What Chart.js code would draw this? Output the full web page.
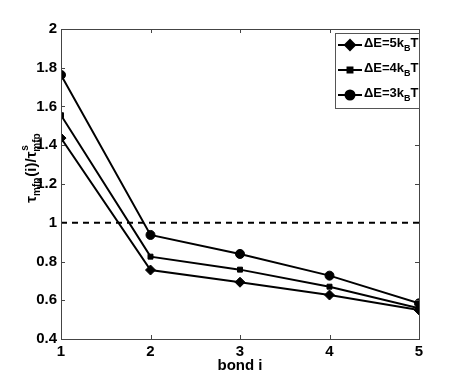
<!DOCTYPE html>
<html>
<head>
<meta charset="UTF-8">
<title>tau mfp vs bond</title>
<script src="https://cdn.jsdelivr.net/npm/chart.js"></script>
<style>
    body { margin: 0; background: #fff; }
    #wrap { width: 463px; height: 382px; }
</style>
</head>
<body>
<div id="wrap"><canvas id="c"></canvas></div>
<script>
    // data
    var bonds = [1, 2, 3, 4, 5];
    var dE5 = [1.437, 0.756, 0.693, 0.627, 0.55];
    var dE4 = [1.555, 0.825, 0.758, 0.670, 0.558];
    var dE3 = [1.763, 0.937, 0.839, 0.727, 0.584];
    var refLine = [1, 1, 1, 1, 1];
    var legendNames = ['5', '4', '3'];

    var FONT = "'Liberation Sans Narrow', 'Liberation Sans', Arial, sans-serif";

    function pts(arr) {
        return arr.map(function (v, i) { return { x: bonds[i], y: v }; });
    }

    function series(arr, style, rad) {
        return {
            data: pts(arr),
            borderColor: '#000',
            backgroundColor: '#000',
            borderWidth: 2,
            pointStyle: style,
            pointRadius: rad,
            pointBorderWidth: 1,
            tension: 0
        };
    }

    // axis box, inward ticks, titles, legend
    var decor = {
        id: 'decor',
        afterDraw: function (chart) {
            var c = chart.ctx, a = chart.chartArea;
            var xs = chart.scales.x, ys = chart.scales.y;
            c.save();
            c.strokeStyle = '#444';
            c.lineWidth = 1;
            c.strokeRect(a.left + 0.5, a.top + 0.5, a.right - a.left, a.bottom - a.top);
            c.beginPath();
            bonds.forEach(function (b) {
                var px = Math.round(xs.getPixelForValue(b)) + 0.5;
                c.moveTo(px, a.bottom); c.lineTo(px, a.bottom - 4);
                c.moveTo(px, a.top); c.lineTo(px, a.top + 4);
            });
            ys.ticks.forEach(function (t) {
                var py = Math.round(ys.getPixelForValue(t.value)) + 0.5;
                c.moveTo(a.left, py); c.lineTo(a.left + 4, py);
                c.moveTo(a.right, py); c.lineTo(a.right - 4, py);
            });
            c.stroke();

            // x title
            c.fillStyle = '#000';
            c.font = 'bold 15px ' + FONT;
            c.textAlign = 'center';
            c.textBaseline = 'middle';
            c.fillText('bond i', (a.left + a.right) / 2, 366);

            // y title: tau_mfp(i)/tau^s_mfp
            c.translate(31, 168);
            c.rotate(-Math.PI / 2);
            c.textAlign = 'left';
            c.textBaseline = 'alphabetic';
            var big = 'bold 15px ' + FONT, small = 'bold 10px ' + FONT;
            c.font = big; var wTau = c.measureText('\u03c4').width, wMid = c.measureText('(i)/\u03c4').width;
            c.font = small; var wSub = c.measureText('mfp').width;
            var w = wTau + wSub + 1 + wMid + wSub;
            var x = -w / 2, base = 5;
            c.font = big; c.fillText('\u03c4', x, base); x += wTau;
            c.font = small; c.fillText('mfp', x, base + 4); x += wSub + 1;
            c.font = big; c.fillText('(i)/\u03c4', x, base); x += wMid;
            c.font = small; c.fillText('s', x + 1, base - 8); c.fillText('mfp', x, base + 4);
            c.restore();

            // legend
            c.save();
            var lx = 335, ly = 33, lw = 84, lh = 75;
            c.fillStyle = '#fff';
            c.fillRect(lx, ly, lw, lh);
            c.strokeStyle = '#555';
            c.lineWidth = 1;
            c.strokeRect(lx + 0.5, ly + 0.5, lw, lh);
            var rows = [45, 70, 95];
            [0, 1, 2].forEach(function (i) {
                var ds = chart.data.datasets[i];
                var y = rows[i];
                c.strokeStyle = '#000';
                c.fillStyle = '#000';
                c.lineWidth = 2;
                c.beginPath(); c.moveTo(338, y); c.lineTo(362, y); c.stroke();
                Chart.helpers.drawPoint(c, {
                    pointStyle: ds.pointStyle, radius: ds.pointRadius, borderWidth: 1
                }, 350, y);
                c.fillStyle = '#000';
                c.textBaseline = 'middle';
                c.textAlign = 'left';
                c.font = 'bold 13px ' + FONT;
                var t1 = '\u0394E=' + legendNames[i] + 'k';
                c.fillText(t1, 364, y - 2);
                var tx = 364 + c.measureText(t1).width;
                c.font = 'bold 9px ' + FONT;
                c.fillText('B', tx, y + 4);
                tx += c.measureText('B').width;
                c.font = 'bold 13px ' + FONT;
                c.fillText('T', tx, y - 2);
            });
            c.restore();
        }
    };

    new Chart(document.getElementById('c'), {
        type: 'line',
        data: {
            datasets: [
                series(dE5, 'rectRot', 5),
                series(dE4, 'rect', 3.5),
                series(dE3, 'circle', 4.5),
                {
                    data: pts(refLine),
                    borderColor: '#000',
                    borderWidth: 2,
                    borderDash: [6, 5],
                    pointRadius: 0
                }
            ]
        },
        options: {
            responsive: true,
            maintainAspectRatio: false,
            animation: false,
            layout: { padding: { top: 29, right: 44, left: 0, bottom: 0 } },
            plugins: { legend: { display: false }, tooltip: { enabled: false } },
            scales: {
                x: {
                    type: 'linear', min: 1, max: 5,
                    grid: { display: false, drawTicks: false },
                    border: { display: false },
                    ticks: {
                        stepSize: 1, padding: 4, color: '#000',
                        font: { family: FONT, size: 15, weight: 'bold' }
                    },
                    afterFit: function (s) { s.height = 43; }
                },
                y: {
                    min: 0.4, max: 2,
                    grid: { display: false, drawTicks: false },
                    border: { display: false },
                    ticks: {
                        stepSize: 0.2, padding: 4, color: '#000',
                        font: { family: FONT, size: 15, weight: 'bold' },
                        callback: function (v) { return String(Number(v.toFixed(1))); }
                    },
                    afterFit: function (s) { s.width = 61; }
                }
            }
        },
        plugins: [decor]
    });
</script>
</body>
</html>
